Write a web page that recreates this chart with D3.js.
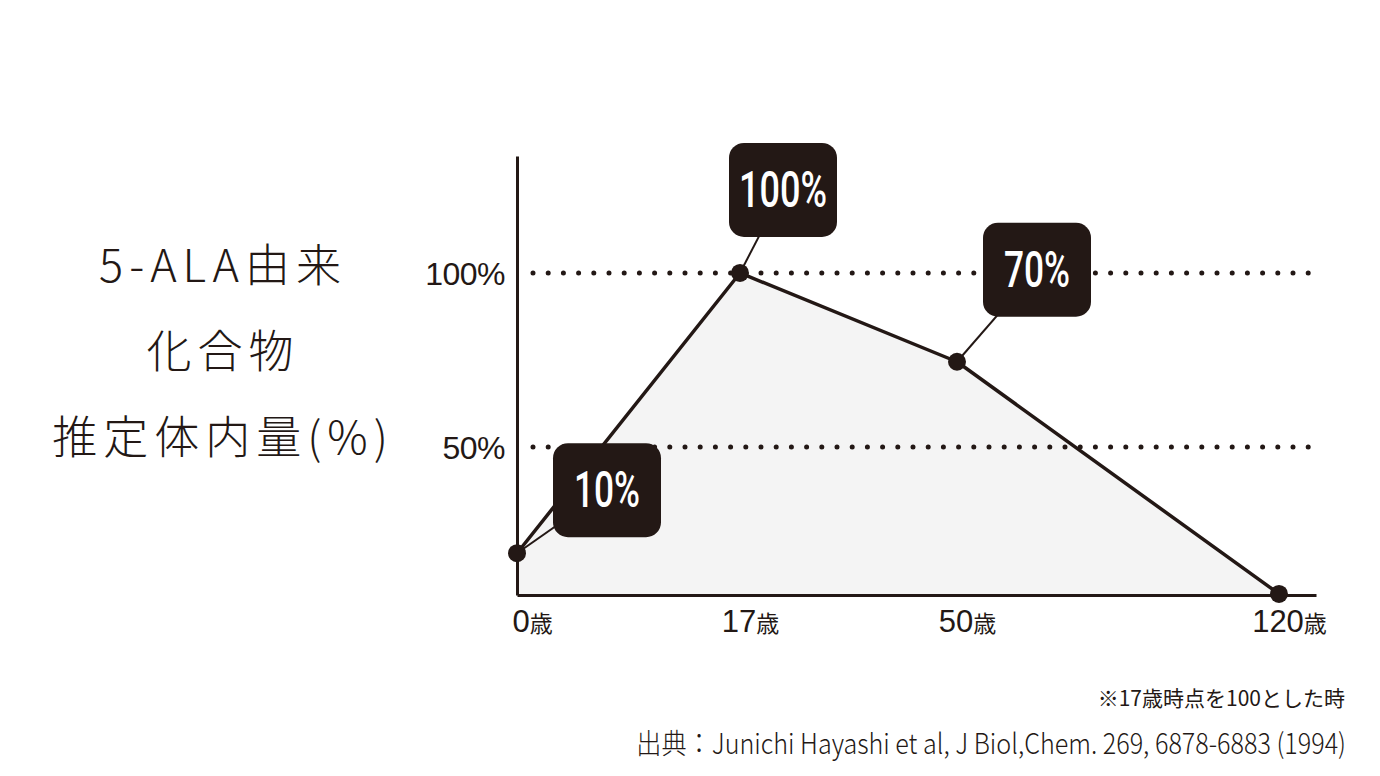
<!DOCTYPE html>
<html lang="ja">
<head>
<meta charset="utf-8">
<script src="https://cdn.jsdelivr.net/npm/d3@7"></script>
<style>
  body { margin: 0; background: #fff; }
  svg { display: block; }
  .tick text { fill: #231815; }
</style>
</head>
<body>
<svg id="chart"></svg>
<script>
// data
const ages = [0, 17, 50, 120];
const ageLabels = ["0", "17", "50", "120"];
const values = [19.5, 100, 74.5, 7.8];   // estimated body content (%)
const calloutLabels = ["10%", "100%", "70%", null];
const yTicks = [50, 100];
const titleLines = ["5-ALA由来", "化合物", "推定体内量(%)"];
const note = "※17歳時点を100とした時";
const source = "出典：Junichi Hayashi et al, J Biol,Chem. 269, 6878-6883 (1994)";

// callout box offsets from the point (layout only)
const calloutOffsets = [[90, -63], [43, -83], [80, -92], null];

const width = 1380;
const height = 776;
const ink = "#231815";

const svg = d3.select("#chart")
  .attr("width", width)
  .attr("height", height);

// scales
const xScale = d3.scaleLinear()
  .domain([0, 17, 50, 120, 128])
  .range([517, 740, 957, 1279, 1316]);

const yScale = d3.scaleLinear()
  .domain([7.5, 133.6])
  .range([595, 156]);

const data = ages.map((a, i) => ({ age: a, value: values[i], label: calloutLabels[i], off: calloutOffsets[i] }));

// area under the line
svg.append("path")
  .datum(data)
  .attr("fill", "#f4f4f4")
  .attr("d", d3.area()
    .x(d => xScale(d.age))
    .y0(yScale(7.5))
    .y1(d => yScale(d.value)));

// dotted gridlines
svg.selectAll(".grid")
  .data(yTicks)
  .enter()
  .append("line")
  .attr("class", "grid")
  .attr("x1", xScale(0) + 16)
  .attr("x2", xScale(128))
  .attr("y1", d => yScale(d))
  .attr("y2", d => yScale(d))
  .attr("stroke", ink)
  .attr("stroke-width", 5)
  .attr("stroke-linecap", "round")
  .attr("stroke-dasharray", "0 15.2");

// y axis
const yAxis = d3.axisLeft(yScale)
  .tickValues(yTicks)
  .tickSize(0)
  .tickPadding(12)
  .tickFormat(d => d + "%");

const gy = svg.append("g")
  .attr("transform", `translate(${xScale(0)},0)`)
  .call(yAxis);
gy.select(".domain").attr("stroke", ink).attr("stroke-width", 3);
gy.selectAll(".tick text")
  .attr("font-family", "'Liberation Sans', Arial, sans-serif")
  .attr("font-size", 32)
  .attr("letter-spacing", -0.5)
  .attr("dy", "0.36em");

// x axis
const xAxis = d3.axisBottom(xScale)
  .tickValues(ages)
  .tickSize(0)
  .tickSizeOuter(0)
  .tickFormat((d, i) => ageLabels[i]);

const gx = svg.append("g")
  .attr("transform", `translate(0,${yScale(7.5)})`)
  .call(xAxis);
gx.select(".domain").attr("stroke", ink).attr("stroke-width", 3);
gx.selectAll(".tick text")
  .attr("text-anchor", (d, i) => i === 0 ? "start" : "middle")
  .attr("x", (d, i) => i === 0 ? -5 : 10)
  .attr("y", 37)
  .attr("dy", 0)
  .attr("font-family", "'Liberation Sans', Arial, sans-serif")
  .each(function(d, i) {
    const t = d3.select(this);
    t.text(null);
    t.append("tspan").attr("font-size", 31).text(ageLabels[i]);
    t.append("tspan").attr("font-size", 23)
      .attr("font-family", "'Noto Sans CJK JP', sans-serif").text("歳");
  });

// line
svg.append("path")
  .datum(data)
  .attr("fill", "none")
  .attr("stroke", ink)
  .attr("stroke-width", 3.5)
  .attr("stroke-linejoin", "round")
  .attr("d", d3.line()
    .x(d => xScale(d.age))
    .y(d => yScale(d.value)));

// callouts
const withLabel = data.filter(d => d.label);

svg.selectAll(".leader")
  .data(withLabel)
  .enter()
  .append("line")
  .attr("x1", d => xScale(d.age))
  .attr("y1", d => yScale(d.value))
  .attr("x2", d => xScale(d.age) + d.off[0])
  .attr("y2", d => yScale(d.value) + d.off[1])
  .attr("stroke", ink)
  .attr("stroke-width", 2);

// points
svg.selectAll(".pt")
  .data(data)
  .enter()
  .append("circle")
  .attr("cx", d => xScale(d.age))
  .attr("cy", d => yScale(d.value))
  .attr("r", 9)
  .attr("fill", ink);

const boxW = 108, boxH = 94;
const callout = svg.selectAll(".callout")
  .data(withLabel)
  .enter()
  .append("g")
  .attr("transform", d => `translate(${xScale(d.age) + d.off[0]},${yScale(d.value) + d.off[1]})`);

callout.append("rect")
  .attr("x", -boxW / 2)
  .attr("y", -boxH / 2)
  .attr("width", boxW)
  .attr("height", boxH)
  .attr("rx", 15)
  .attr("fill", ink);

callout.append("text")
  .attr("text-anchor", "middle")
  .attr("y", 17)
  .attr("fill", "#fff")
  .attr("font-family", "Roboto, 'DejaVu Sans Condensed', sans-serif")
  .attr("font-weight", 500)
  .attr("font-size", 50)
  .attr("textLength", d => d.label.length * 22)
  .attr("lengthAdjust", "spacingAndGlyphs")
  .text(d => d.label);

// left title
svg.append("g")
  .selectAll("text")
  .data(titleLines)
  .enter()
  .append("text")
  .attr("x", 223)
  .attr("y", (d, i) => 282 + i * 86)
  .attr("text-anchor", "middle")
  .attr("font-family", "'Noto Sans CJK JP', sans-serif")
  .attr("font-weight", 300)
  .attr("font-size", 45)
  .attr("letter-spacing", 6)
  .attr("fill", ink)
  .text(d => d);

// notes, squeezed horizontally to the reference widths
function squeezed(txt, right, base, size, weight, targetW) {
  const g = svg.append("g");
  const t = g.append("text")
    .attr("text-anchor", "end")
    .attr("font-family", "'Noto Sans CJK JP', sans-serif")
    .attr("font-weight", weight)
    .attr("font-size", size)
    .attr("fill", ink)
    .text(txt);
  const w = t.node().getComputedTextLength();
  const k = Math.min(1, targetW / w);
  g.attr("transform", `translate(${right},${base}) scale(${k},1)`);
}

squeezed(note, 1345, 706, 21, 400, 248);
squeezed(source, 1346, 754, 28, 300, 710);
</script>
</body>
</html>
